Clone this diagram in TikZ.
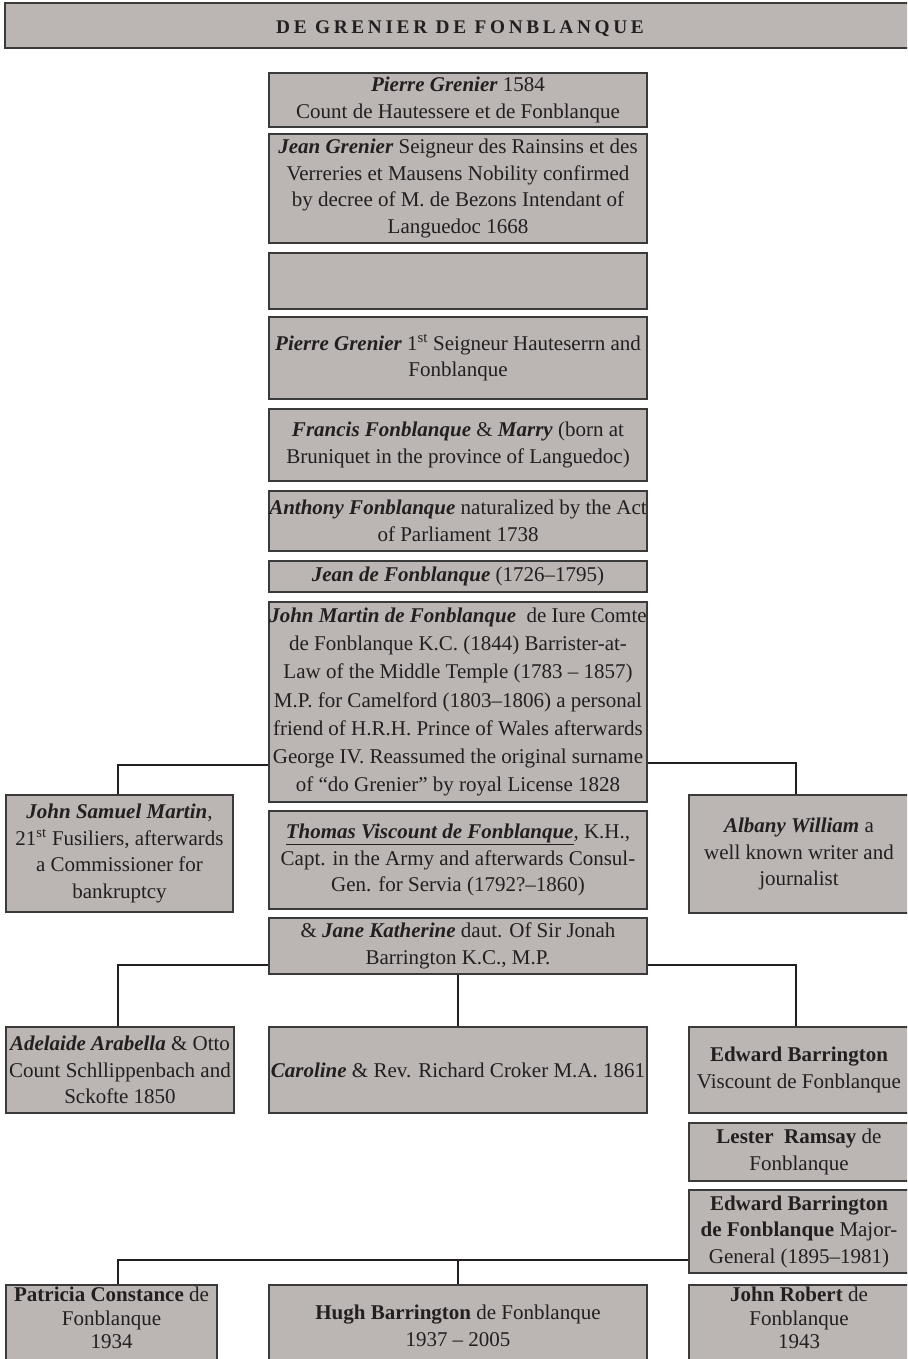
\documentclass[tikz,border=0pt]{standalone}
\usepackage{fontspec}
\setmainfont{Liberation Serif}
\newfontfamily\headfont[LetterSpace=19]{Liberation Serif}
\definecolor{boxfill}{HTML}{BBB6B3}
\definecolor{boxline}{HTML}{3A3A3A}
\definecolor{ink}{HTML}{231F20}
\newcommand{\bi}[1]{\textbf{\textit{#1}}}
\begin{document}
\begin{tikzpicture}[x=1pt,y=-1pt,
  box/.style={draw=boxline, line width=1.1pt, fill=boxfill, text=ink, align=center, inner sep=0pt, font=\fontsize{21}{26.5}\selectfont},
  boxtext/.style={text=ink, align=center, inner sep=0pt, font=\fontsize{21}{23.5}\selectfont},
  link/.style={draw=ink, line width=1.8pt}]
\useasboundingbox (0,0) rectangle (907,1359);
\clip (0,0) rectangle (907,1359);
% header
\path[draw=boxline, line width=1.1pt, fill=boxfill] (5,3) rectangle (910,48);
\node[text=ink, inner sep=0pt, font=\headfont\bfseries\fontsize{19.3}{21}\selectfont, anchor=base] (hd) at (460,34) {DE GRENIER DE FONBLANQUE};
% centre column
\node[box, minimum width=378pt, minimum height=54pt] (b1) at (458,100) {\bi{Pierre Grenier} 1584\\Count de Hautessere et de Fonblanque};
\node[box, minimum width=378pt, minimum height=109pt] (b2) at (458,188.5) {\bi{Jean Grenier} Seigneur des Rainsins et des\\Verreries et Mausens Nobility confirmed\\by decree of M. de Bezons Intendant of\\Languedoc 1668};
\node[box, minimum width=378pt, minimum height=56pt] (b3) at (458,281) {};
\node[box, minimum width=378pt, minimum height=82pt] (b4) at (458,358) {\bi{Pierre Grenier} 1\textsuperscript{st} Seigneur Hauteserrn and\\Fonblanque};
\node[box, minimum width=378pt, minimum height=72pt] (b5) at (458,445) {\bi{Francis Fonblanque} \& \bi{Marry} (born at\\Bruniquet in the province of Languedoc)};
\node[box, minimum width=378pt, minimum height=60pt] (b6) at (458,521) {\bi{Anthony Fonblanque} naturalized by the Act\\of Parliament 1738};
\node[box, minimum width=378pt, minimum height=31pt] (b7) at (458,576.5) {\bi{Jean de Fonblanque} (1726–1795)};
\node[box, minimum width=378pt, minimum height=200pt, font=\fontsize{21}{28.3}\selectfont] (b8) at (458,702) {\bi{John Martin de Fonblanque}\ \ de Iure Comte\\de Fonblanque K.C. (1844) Barrister-at-\\Law of the Middle Temple (1783 – 1857)\\M.P. for Camelford (1803–1806) a personal\\friend of H.R.H. Prince of Wales afterwards\\George IV. Reassumed the original surname\\of “do Grenier” by royal License 1828};
\node[box, minimum width=378pt, minimum height=98pt] (b9) at (458,860) {\underline{\bi{Thomas Viscount de Fonblanque}}, K.H.,\\Capt. in the Army and afterwards Consul-\\Gen. for Servia (1792?–1860)};
\node[box, minimum width=378pt, minimum height=56pt] (b10) at (458,946) {\& \bi{Jane Katherine} daut. Of Sir Jonah\\Barrington K.C., M.P.};
% sides
\node[box, minimum width=227pt, minimum height=117pt] (jsm) at (119.5,853.5) {\bi{John Samuel Martin},\\21\textsuperscript{st} Fusiliers, afterwards\\a Commissioner for\\bankruptcy};
\node[box, minimum width=220pt, minimum height=118pt] (alb) at (799,854) {\bi{Albany William} a\\well known writer and\\journalist};
\node[box, minimum width=228pt, minimum height=86pt] (ade) at (120,1070) {\bi{Adelaide Arabella} \& Otto\\Count Schllippenbach and\\Sckofte 1850};
\node[box, minimum width=378pt, minimum height=86pt] (car) at (458,1070) {\bi{Caroline} \& Rev. Richard Croker M.A. 1861};
\node[box, minimum width=220pt, minimum height=86pt] (eb1) at (799,1070) {\textbf{Edward Barrington}\\Viscount de Fonblanque};
\node[box, minimum width=220pt, minimum height=58pt] (les) at (799,1152) {\textbf{Lester\ \ Ramsay} de\\Fonblanque};
\node[box, minimum width=220pt, minimum height=83pt] (eb2) at (799,1231.5) {\textbf{Edward Barrington}\\\textbf{de Fonblanque} Major-\\General (1895–1981)};
% bottom row
\node[box, minimum width=211pt, minimum height=82pt] (pat) at (111.5,1326) {};
\node[boxtext] (patt) at (111.5,1318) {\textbf{Patricia Constance} de\\Fonblanque\\1934};
\node[box, minimum width=378pt, minimum height=82pt] (hugh) at (458,1326) {\textbf{Hugh Barrington} de Fonblanque\\1937 – 2005};
\node[box, minimum width=220pt, minimum height=82pt] (jr) at (799,1326) {};
\node[boxtext] (jrt) at (799,1318) {\textbf{John Robert} de\\Fonblanque\\1943};
% connector coordinates
\coordinate (L1) at (118,765);
\coordinate (R1) at (796,763);
\coordinate (L2) at (118,965);
\coordinate (R2) at (796,965);
\coordinate (L3) at (118,1260);
% connectors
\draw[link] (b8.west |- L1) -| (L1 |- jsm.north);
\draw[link] (b8.east |- R1) -| (R1 |- alb.north);
\draw[link] (b10.west |- L2) -| (L2 |- ade.north);
\draw[link] (b10.east |- R2) -| (R2 |- eb1.north);
\draw[link] (b10.south) -- (car.north);
\draw[link] (eb2.west |- L3) -| (L3 |- pat.north);
\draw[link] (hugh.north |- L3) -- (hugh.north);
\end{tikzpicture}
\end{document}
